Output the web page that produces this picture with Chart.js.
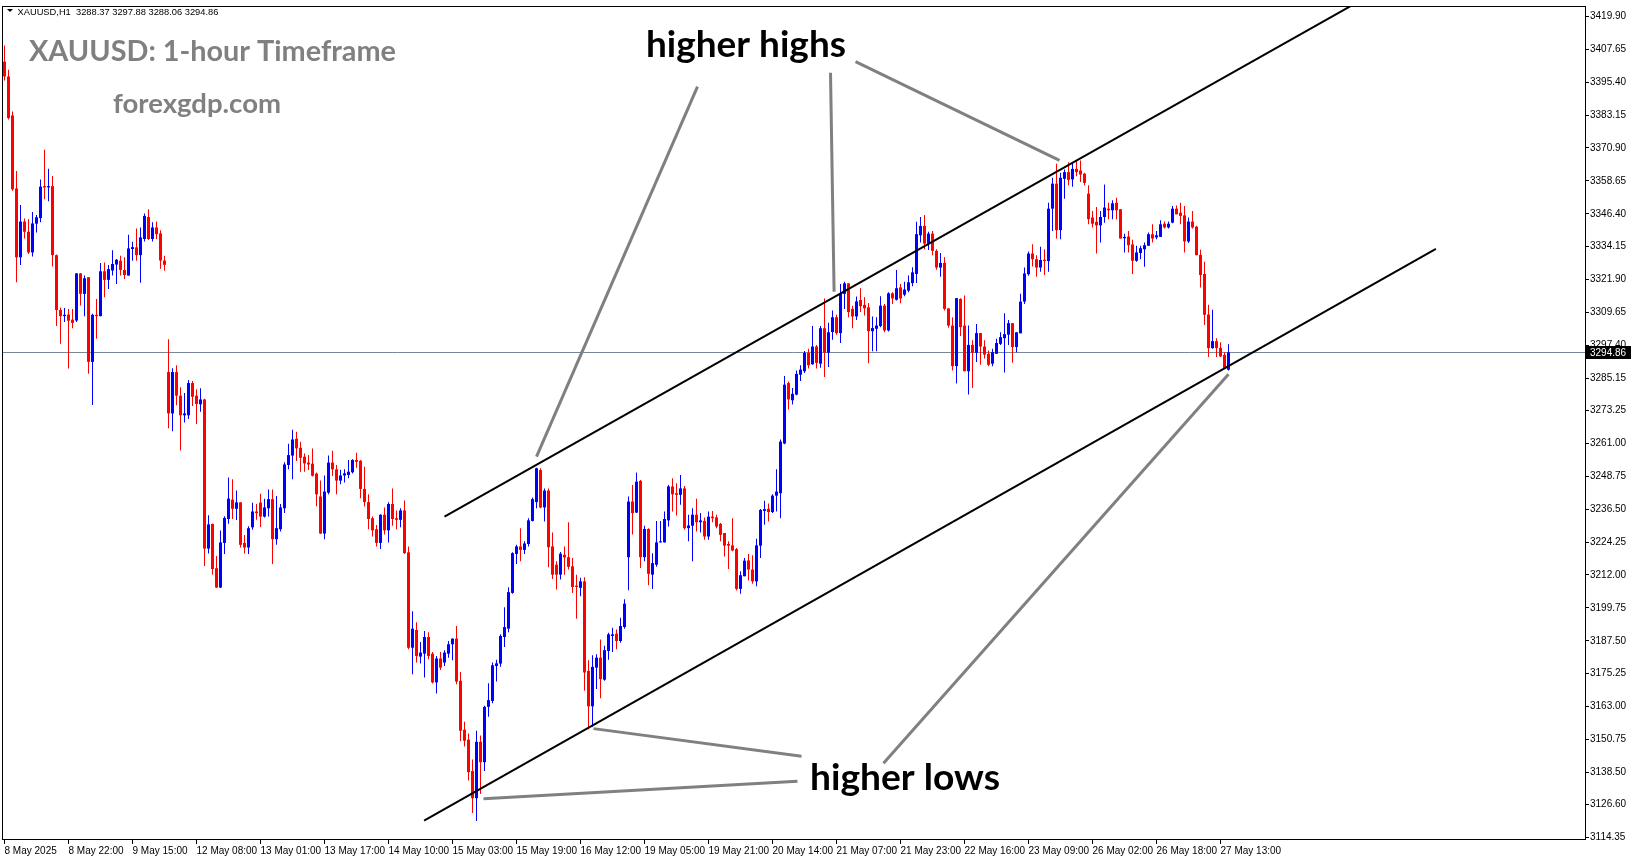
<!DOCTYPE html>
<html><head><meta charset="utf-8">
<script src="https://cdn.jsdelivr.net/npm/chart.js@4.4.1/dist/chart.umd.min.js"></script>
<style>html,body{margin:0;padding:0;background:#fff;overflow:hidden}canvas{display:block}</style>
</head><body>
<canvas id="c" width="1631" height="861"></canvas>
<script>
// ---------- DATA (XAUUSD H1, bar index 0 = 8 May 2025 06:00) ----------
const openP = [
3403.0,3397.5,3383.0,3355.8,3330.2,3343.5,3339.7,3332.0,3342.7,3344.8,
3356.7,3356.2,3356.7,3331.0,3310.6,3308.3,3308.9,3307.0,3306.7,3324.2,
3316.6,3322.8,3291.3,3308.8,3308.3,3325.0,3321.8,3325.3,3327.5,3328.9,
3325.5,3323.4,3333.3,3333.9,3331.0,3337.0,3345.2,3337.0,3341.3,3339.1,
3329.0,3287.5,3272.1,3287.5,3278.7,3271.4,3271.4,3283.4,3278.7,3275.5,
3277.3,3221.8,3231.0,3214.5,3207.3,3223.9,3232.8,3240.0,3236.6,3239.0,
3223.9,3222.2,3229.7,3235.6,3238.9,3233.7,3236.8,3240.2,3225.3,3229.0,
3236.8,3252.9,3256.4,3262.7,3259.3,3256.0,3253.8,3253.4,3249.7,3241.2,
3227.4,3242.6,3253.8,3251.3,3247.1,3249.0,3249.2,3250.2,3254.8,3254.5,
3244.0,3239.1,3233.1,3229.0,3223.9,3234.4,3228.6,3238.4,3233.1,3232.5,
3236.0,3220.4,3184.9,3191.5,3181.6,3182.7,3188.9,3182.7,3172.0,3180.9,
3179.4,3182.7,3186.2,3188.3,3172.6,3154.4,3150.7,3139.0,3128.9,3149.9,
3142.3,3162.9,3165.1,3178.1,3179.0,3188.9,3192.0,3205.3,3219.8,3222.6,
3221.3,3223.5,3232.1,3239.1,3251.0,3237.1,3243.4,3222.6,3215.8,3212.1,
3219.5,3218.6,3215.2,3208.0,3207.2,3209.6,3176.3,3163.1,3177.5,3181.2,
3173.0,3183.7,3189.3,3190.1,3187.4,3192.6,3218.6,3239.3,3235.2,3247.0,
3218.6,3229.1,3212.1,3215.8,3224.1,3224.1,3232.3,3244.9,3242.4,3241.8,
3244.2,3229.4,3230.3,3234.4,3231.6,3232.1,3226.3,3233.7,3233.4,3231.0,
3227.6,3223.5,3223.0,3221.6,3206.8,3211.5,3217.4,3214.0,3209.6,3222.9,
3235.8,3236.6,3235.4,3241.5,3242.4,3260.9,3283.4,3277.0,3279.1,3286.5,
3287.8,3294.6,3290.4,3297.0,3290.6,3303.8,3294.7,3302.4,3307.9,3302.0,
3316.6,3320.5,3311.0,3308.2,3314.3,3312.5,3311.6,3302.7,3303.6,3304.6,
3312.2,3303.0,3316.8,3314.4,3319.0,3316.3,3317.8,3320.6,3324.0,3338.4,
3341.9,3335.3,3339.0,3332.6,3326.4,3328.1,3311.2,3304.8,3289.7,3314.7,
3304.8,3287.8,3297.6,3294.7,3302.0,3297.0,3294.3,3290.6,3294.3,3298.0,
3300.1,3301.4,3305.7,3296.8,3301.9,3313.7,3323.9,3331.6,3329.5,3326.4,
3329.3,3328.8,3348.3,3357.6,3340.3,3359.4,3361.9,3359.2,3363.1,3362.5,
3361.3,3353.9,3345.0,3343.4,3342.1,3345.2,3348.3,3347.7,3350.5,3348.1,
3337.3,3337.9,3335.0,3328.9,3331.8,3333.2,3334.5,3338.8,3337.6,3337.8,
3342.7,3341.3,3343.1,3348.3,3346.8,3345.8,3336.1,3343.5,3341.6,3331.1,
3324.0,3308.9,3296.4,3299.0,3296.5,3293.9,3288.37];
const highP = [
3409.0,3400.0,3384.5,3362.3,3349.7,3344.6,3344.4,3347.1,3345.9,3359.2,
3370.2,3363.2,3360.5,3331.2,3311.5,3311.3,3311.0,3311.0,3324.4,3324.4,
3323.4,3322.8,3309.2,3314.7,3328.1,3328.3,3327.3,3332.8,3329.6,3330.8,
3330.2,3338.6,3336.0,3340.9,3341.3,3346.5,3348.1,3343.2,3343.5,3340.3,
3330.8,3299.7,3288.9,3290.0,3281.8,3279.7,3284.5,3284.2,3281.1,3281.5,
3277.6,3234.2,3231.0,3219.0,3228.5,3233.8,3248.3,3247.6,3243.4,3239.0,
3226.9,3230.1,3238.9,3238.4,3242.2,3240.3,3243.8,3243.8,3241.4,3238.4,
3253.9,3260.8,3266.0,3265.3,3261.6,3257.2,3256.6,3259.0,3250.1,3247.1,
3249.0,3256.4,3258.2,3252.9,3251.1,3251.3,3254.8,3255.0,3257.5,3254.8,
3252.3,3242.0,3233.7,3230.6,3234.6,3237.1,3239.0,3244.2,3236.0,3236.8,
3239.7,3222.6,3198.5,3194.4,3187.0,3191.1,3190.7,3183.3,3181.8,3183.3,
3184.0,3187.4,3188.3,3193.0,3175.9,3157.4,3153.0,3143.3,3154.0,3152.2,
3163.3,3171.7,3179.4,3180.4,3189.9,3200.0,3207.4,3220.4,3223.2,3229.4,
3224.5,3233.1,3240.8,3251.9,3251.7,3244.2,3244.2,3227.8,3217.1,3220.5,
3222.6,3231.6,3218.3,3212.1,3210.9,3211.1,3180.2,3182.1,3182.5,3188.0,
3185.6,3190.5,3192.3,3191.7,3196.1,3202.9,3241.2,3245.5,3250.1,3247.3,
3230.3,3229.4,3220.1,3232.1,3232.1,3235.6,3245.5,3248.0,3246.1,3249.2,
3245.1,3234.4,3236.8,3240.3,3235.0,3233.4,3235.6,3235.8,3234.4,3231.3,
3227.6,3224.5,3233.1,3222.0,3213.4,3218.3,3219.8,3219.3,3225.5,3236.5,
3239.6,3238.6,3242.0,3251.3,3262.4,3286.0,3284.0,3281.6,3288.1,3290.0,
3295.3,3296.2,3304.6,3297.6,3304.6,3314.9,3305.8,3310.4,3308.8,3320.3,
3321.1,3320.5,3312.2,3315.6,3318.7,3315.3,3313.2,3308.2,3307.9,3315.7,
3312.8,3317.2,3317.2,3325.5,3320.3,3321.1,3323.4,3326.5,3343.4,3345.2,
3345.9,3339.7,3340.0,3333.2,3331.8,3330.2,3311.2,3307.9,3315.0,3315.0,
3316.0,3304.8,3299.3,3305.4,3302.0,3299.3,3295.5,3296.2,3299.9,3302.3,
3309.4,3306.9,3305.7,3302.3,3316.6,3326.4,3332.4,3335.1,3331.0,3334.1,
3333.2,3350.5,3359.8,3365.0,3361.7,3362.9,3365.6,3365.6,3366.0,3366.2,
3361.7,3357.0,3347.4,3348.9,3347.4,3357.3,3350.5,3351.4,3352.4,3348.1,
3339.0,3340.0,3336.7,3334.5,3334.5,3335.7,3339.4,3342.5,3340.0,3344.0,
3343.5,3343.5,3349.3,3349.5,3350.5,3349.3,3345.0,3347.4,3341.9,3333.0,
3328.5,3312.5,3310.7,3300.1,3298.6,3294.9,3297.88];
const lowP = [
3396.0,3381.5,3355.0,3320.9,3327.3,3337.2,3331.4,3330.5,3339.4,3343.2,
3351.8,3351.1,3326.8,3304.6,3298.0,3306.1,3288.8,3303.8,3306.1,3312.3,
3308.3,3286.9,3275.2,3299.9,3308.3,3315.3,3318.4,3323.4,3320.3,3323.4,
3322.1,3323.4,3328.9,3328.9,3320.7,3336.1,3336.6,3336.1,3337.0,3325.9,
3325.2,3266.6,3265.5,3275.1,3258.3,3268.7,3270.0,3274.9,3268.2,3272.7,
3215.3,3220.0,3212.2,3207.1,3207.1,3219.8,3231.0,3232.8,3232.4,3222.2,
3220.0,3219.8,3228.8,3232.5,3229.8,3233.4,3233.7,3216.1,3223.2,3228.2,
3235.0,3251.3,3247.6,3254.4,3250.4,3250.4,3251.0,3248.6,3237.6,3227.2,
3225.3,3242.0,3248.8,3242.0,3245.7,3246.4,3248.0,3249.7,3251.9,3240.5,
3237.5,3229.0,3226.3,3222.6,3221.6,3227.0,3224.1,3230.3,3229.0,3229.7,
3219.8,3184.3,3175.0,3179.4,3179.0,3173.8,3180.6,3171.6,3167.9,3176.6,
3178.1,3181.2,3180.2,3171.3,3150.1,3148.1,3135.5,3123.4,3120.4,3130.5,
3139.0,3159.2,3164.2,3172.3,3177.8,3185.2,3190.7,3205.0,3216.1,3217.1,
3219.8,3222.6,3231.9,3236.8,3236.8,3231.9,3214.9,3210.5,3206.6,3210.3,
3212.1,3214.0,3205.3,3195.7,3204.1,3168.9,3154.6,3155.5,3169.5,3166.1,
3172.6,3180.4,3183.3,3184.3,3186.8,3192.0,3206.3,3227.0,3235.0,3214.6,
3217.1,3208.2,3206.8,3215.0,3224.1,3224.1,3230.0,3235.6,3234.1,3238.1,
3228.8,3224.5,3217.1,3228.2,3227.8,3225.1,3225.1,3231.6,3229.4,3224.5,
3218.9,3214.2,3220.8,3206.2,3205.0,3211.5,3209.9,3208.7,3207.8,3218.3,
3230.7,3231.9,3235.0,3235.6,3233.1,3260.6,3273.6,3275.4,3278.9,3284.2,
3287.1,3288.8,3290.2,3288.8,3289.1,3285.7,3289.4,3299.5,3301.4,3298.3,
3311.0,3307.9,3303.8,3306.9,3309.8,3308.5,3290.8,3295.2,3295.2,3304.2,
3302.3,3302.6,3312.8,3314.1,3313.1,3315.7,3317.2,3319.4,3320.6,3335.7,
3333.2,3332.9,3331.0,3325.6,3323.0,3310.4,3304.0,3288.1,3283.2,3300.9,
3287.8,3279.1,3281.6,3291.2,3290.2,3292.5,3289.7,3289.7,3294.3,3297.6,
3287.3,3297.6,3291.0,3294.9,3301.9,3312.8,3323.3,3326.8,3323.0,3324.8,
3323.6,3324.8,3340.0,3337.2,3336.9,3352.0,3357.0,3356.5,3360.4,3358.2,
3357.0,3342.5,3341.3,3331.6,3335.7,3343.1,3344.4,3344.4,3344.4,3337.2,
3332.0,3332.0,3324.0,3328.5,3329.5,3326.7,3334.5,3335.7,3336.9,3337.8,
3340.9,3340.9,3342.9,3346.2,3342.5,3332.0,3335.5,3340.9,3331.0,3319.0,
3305.0,3293.1,3296.2,3293.1,3293.1,3288.5,3288.06];
const closeP = [
3397.5,3382.0,3355.5,3330.2,3343.5,3339.7,3332.0,3342.8,3345.1,3356.5,
3356.2,3356.7,3331.0,3310.6,3308.3,3308.8,3306.6,3305.8,3324.2,3316.6,
3322.4,3291.3,3308.8,3308.3,3325.0,3321.8,3325.8,3327.7,3329.3,3325.5,
3323.6,3333.5,3334.0,3331.0,3337.6,3345.6,3337.0,3341.3,3338.8,3329.0,
3327.4,3272.1,3287.5,3278.7,3271.4,3272.1,3283.4,3278.3,3275.6,3277.3,
3221.8,3230.8,3214.2,3207.3,3224.1,3233.2,3240.4,3236.6,3239.0,3223.2,
3222.2,3229.4,3235.6,3235.0,3233.7,3237.1,3240.2,3225.3,3229.4,3237.1,
3253.1,3256.6,3262.4,3259.1,3255.6,3253.5,3253.1,3248.9,3242.0,3227.4,
3243.0,3253.8,3251.3,3247.1,3249.0,3249.8,3250.4,3254.8,3254.1,3244.0,
3239.1,3232.8,3228.6,3223.9,3234.4,3228.6,3238.4,3232.8,3232.5,3236.0,
3220.1,3184.9,3192.0,3181.8,3183.1,3188.9,3181.8,3172.0,3180.9,3177.5,
3183.1,3186.2,3188.3,3172.3,3154.0,3150.3,3138.6,3128.9,3149.9,3142.3,
3162.9,3165.4,3178.4,3179.1,3189.3,3192.6,3205.6,3220.1,3222.6,3221.3,
3223.7,3232.3,3240.2,3251.7,3237.1,3243.4,3222.3,3212.1,3212.1,3219.9,
3218.5,3215.0,3207.5,3207.5,3209.6,3175.7,3163.1,3177.8,3181.2,3173.2,
3184.0,3189.9,3189.9,3187.4,3193.0,3201.3,3239.3,3235.0,3246.7,3218.6,
3229.1,3212.4,3216.4,3224.1,3224.5,3232.8,3244.9,3242.0,3241.8,3244.2,
3229.4,3230.4,3234.4,3231.6,3232.3,3226.3,3233.7,3233.1,3230.0,3226.9,
3222.9,3222.9,3221.1,3206.8,3211.9,3217.3,3214.0,3209.6,3223.0,3236.2,
3236.5,3235.4,3241.5,3243.0,3261.6,3282.8,3277.3,3279.4,3286.8,3288.4,
3294.6,3290.0,3297.0,3290.9,3303.8,3294.7,3302.3,3307.9,3302.0,3316.8,
3320.5,3309.8,3308.2,3313.8,3312.0,3311.2,3302.7,3303.9,3304.8,3312.2,
3303.0,3316.8,3314.9,3318.7,3314.9,3318.2,3320.9,3324.6,3338.8,3341.9,
3335.3,3339.0,3332.6,3326.4,3328.1,3311.0,3304.8,3289.7,3315.0,3304.2,
3287.8,3297.6,3294.7,3302.0,3297.0,3294.0,3290.2,3294.9,3298.3,3300.5,
3301.6,3305.7,3296.8,3302.3,3313.7,3324.2,3331.6,3329.5,3326.4,3329.2,
3328.8,3348.3,3357.6,3340.3,3359.8,3361.9,3359.0,3363.1,3361.9,3361.0,
3357.9,3344.4,3342.7,3342.1,3345.2,3348.7,3347.7,3350.3,3347.7,3337.2,
3337.8,3334.7,3328.9,3332.0,3333.6,3334.7,3338.8,3337.2,3338.4,3342.5,
3341.3,3342.7,3348.3,3346.2,3345.6,3336.1,3343.5,3341.3,3331.0,3323.6,
3308.8,3296.4,3299.0,3296.4,3293.3,3289.0,3294.86];

const xTickLabels = ['8 May 2025','8 May 22:00','9 May 15:00','12 May 08:00','13 May 01:00','13 May 17:00',
  '14 May 10:00','15 May 03:00','15 May 19:00','16 May 12:00','19 May 05:00','19 May 21:00','20 May 14:00',
  '21 May 07:00','21 May 23:00','22 May 16:00','23 May 09:00','26 May 02:00','26 May 18:00','27 May 13:00'];
const xTickStep = 16;
const yTickValues = [3419.90,3407.65,3395.40,3383.15,3370.90,3358.65,3346.40,3334.15,3321.90,3309.65,3297.40,
  3285.15,3273.25,3261.00,3248.75,3236.50,3224.25,3212.00,3199.75,3187.50,3175.25,3163.00,3150.75,3138.50,3126.60,3114.35];
const lastPrice = 3294.86;
const headerText = 'XAUUSD,H1  3288.37 3297.88 3288.06 3294.86';

// trend lines in (bar index, price)
const channelUpper = [[110.0, 3233.7],[340.0, 3426.6]];
const channelLower = [[104.9, 3120.6],[357.85, 3333.3]];
const pointerLines = [
  [[173.25, 3393.7],[133.0, 3256.0]],
  [[206.5, 3398.9],[207.4, 3317.4]],
  [[212.75, 3403.0],[263.75, 3366.3]],
  [[199.25, 3144.5],[147.25, 3154.8]],
  [[198.25, 3135.2],[119.75, 3128.7]],
  [[219.75, 3141.9],[306.0, 3286.7]]
];

// ---------- CHART ----------
const BLUE = '#0000ff', RED = '#ff0000';
const isUp = i => closeP[i] >= openP[i];
const bodies = openP.map((o, i) => ({x: i, y: [o, closeP[i]]}));
const wicks = openP.map((o, i) => ({x: i, y: [lowP[i], highP[i]]}));
const colorFn = c => isUp(c.dataIndex) ? BLUE : RED;

function fitFont(ctx, text, weight, family, width) {
  ctx.font = weight + ' 100px ' + family;
  const w = ctx.measureText(text).width;
  const size = 100 * width / w;
  ctx.font = weight + ' ' + size.toFixed(2) + 'px ' + family;
  return size;
}

const overlay = {
  id: 'overlay',
  beforeDatasetsDraw(chart) {
    const {ctx, chartArea: a, scales: {y}} = chart;
    const py = Math.round(y.getPixelForValue(lastPrice)) + 0.5;
    ctx.save();
    ctx.strokeStyle = '#778899'; ctx.lineWidth = 1;
    ctx.beginPath(); ctx.moveTo(a.left, py); ctx.lineTo(a.right, py); ctx.stroke();
    ctx.restore();
  },
  afterDatasetsDraw(chart) {
    const {ctx, chartArea: a, scales: {x, y}} = chart;
    const P = pt => [x.getPixelForValue(pt[0]), y.getPixelForValue(pt[1])];
    ctx.save();
    ctx.beginPath(); ctx.rect(a.left, a.top, a.right - a.left, a.bottom - a.top); ctx.clip();
    ctx.lineCap = 'butt';
    ctx.strokeStyle = '#808080'; ctx.lineWidth = 3;
    pointerLines.forEach(l => {
      const p0 = P(l[0]), p1 = P(l[1]);
      ctx.beginPath(); ctx.moveTo(p0[0], p0[1]); ctx.lineTo(p1[0], p1[1]); ctx.stroke();
    });
    ctx.strokeStyle = '#000'; ctx.lineWidth = 2;
    [channelUpper, channelLower].forEach(l => {
      const p0 = P(l[0]), p1 = P(l[1]);
      ctx.beginPath(); ctx.moveTo(p0[0], p0[1]); ctx.lineTo(p1[0], p1[1]); ctx.stroke();
    });
    ctx.restore();
  },
  afterDraw(chart) {
    const {ctx, chartArea: a, scales: {y}} = chart;
    ctx.save();
    // frame
    ctx.strokeStyle = '#000'; ctx.lineWidth = 1;
    ctx.strokeRect(a.left + 0.5, a.top - 0.5, a.right - a.left, a.bottom - a.top);
    // price tag
    const py = Math.round(y.getPixelForValue(lastPrice));
    ctx.fillStyle = '#000';
    ctx.fillRect(a.right + 1, py - 6, 45, 13);
    ctx.fillStyle = '#fff';
    ctx.font = '10px "Liberation Sans"';
    ctx.textBaseline = 'middle'; ctx.textAlign = 'left';
    ctx.fillText(lastPrice.toFixed(2), a.right + 5, py + 1);
    // header
    ctx.fillStyle = '#000';
    ctx.beginPath(); ctx.moveTo(7, 9); ctx.lineTo(13, 9); ctx.lineTo(10, 12); ctx.closePath(); ctx.fill();
    ctx.textBaseline = 'alphabetic';
    fitFont(ctx, headerText, 'normal', '"Liberation Sans"', 201);
    ctx.fillText(headerText, 17.5, 14.5);
    // titles
    ctx.fillStyle = '#808080';
    fitFont(ctx, 'XAUUSD: 1-hour Timeframe', 'bold', 'Lato', 367);
    ctx.fillText('XAUUSD: 1-hour Timeframe', 29, 61);
    fitFont(ctx, 'forexgdp.com', 'bold', 'Lato', 168);
    ctx.fillText('forexgdp.com', 113, 113);
    ctx.fillStyle = '#000';
    fitFont(ctx, 'higher highs', 'bold', 'Lato', 200);
    ctx.fillText('higher highs', 646, 57);
    fitFont(ctx, 'higher lows', 'bold', 'Lato', 190);
    ctx.fillText('higher lows', 810, 790);
    ctx.restore();
  }
};

const tickFont = {family: 'Liberation Sans', size: 10};
new Chart(document.getElementById('c'), {
  type: 'bar',
  data: {
    datasets: [
      {label: 'wick', data: wicks, backgroundColor: colorFn, barThickness: 1, grouped: false,
       inflateAmount: 0, borderWidth: 0, order: 2},
      {label: 'body', data: bodies, backgroundColor: colorFn, barThickness: 3, grouped: false,
       inflateAmount: 0, borderWidth: 0, minBarLength: 1, order: 1}
    ]
  },
  options: {
    responsive: false, animation: false, devicePixelRatio: 1,
    layout: {padding: {left: 2, top: 3, right: 0, bottom: 0}},
    plugins: {legend: {display: false}, tooltip: {enabled: false}},
    scales: {
      x: {
        type: 'linear', min: -0.625, max: 395.125, offset: false, bounds: 'data',
        grid: {display: true, offset: false, drawOnChartArea: false, drawTicks: true, tickLength: 4, color: '#000'},
        border: {display: false},
        afterBuildTicks: s => { s.ticks = xTickLabels.map((t, k) => ({value: k * xTickStep})); },
        afterFit: s => { s.height = 21; },
        ticks: {autoSkip: false, maxRotation: 0, minRotation: 0, align: 'start', padding: 1, color: '#000',
          font: tickFont, callback: v => xTickLabels[Math.round(v / xTickStep)]}
      },
      y: {
        type: 'linear', position: 'right', min: 3113.35, max: 3423.35, bounds: 'data',
        grid: {display: true, drawOnChartArea: false, drawTicks: true, tickLength: 4, color: '#000'},
        border: {display: false},
        afterBuildTicks: s => { s.ticks = yTickValues.map(v => ({value: v})); },
        afterFit: s => { s.width = 46; },
        ticks: {autoSkip: false, padding: 1, color: '#000', font: tickFont, callback: v => v.toFixed(2)}
      }
    }
  },
  plugins: [overlay]
});
</script>
</body></html>
